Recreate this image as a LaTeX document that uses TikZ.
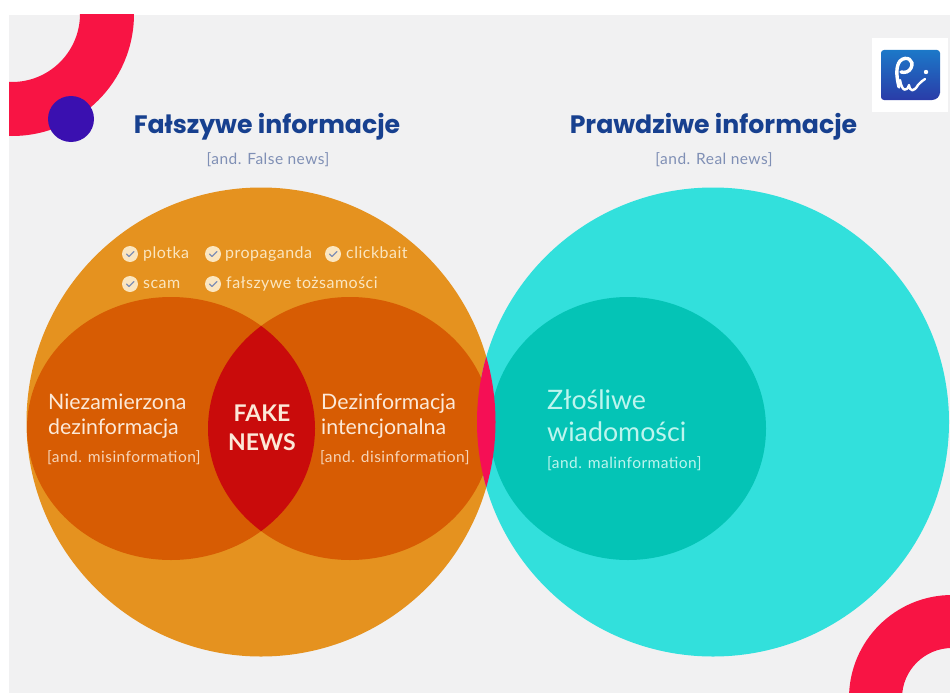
\documentclass[tikz,border=0pt]{standalone}
\usepackage{fontspec}
\setmainfont{Lato}
\newfontfamily\titlefont{Poppins}
\newfontfamily\spacedfont[LetterSpace=3]{Lato}
\definecolor{bgc}{HTML}{F1F1F2}
\definecolor{ringc}{HTML}{F81444}
\definecolor{purp}{HTML}{3A10B0}
\definecolor{orangeA}{HTML}{E5921F}
\definecolor{orangeB}{HTML}{D75C03}
\definecolor{redlens}{HTML}{C90B0B}
\definecolor{pinkl}{HTML}{F50F55}
\definecolor{cyanA}{HTML}{32E0DC}
\definecolor{cyanB}{HTML}{04C4B6}
\definecolor{navy}{HTML}{17408F}
\definecolor{subc}{HTML}{7F8FB5}
\definecolor{cream}{HTML}{FBE6C0}
\definecolor{softw}{HTML}{FCE9D8}
\definecolor{softc}{HTML}{BDF5EE}
\definecolor{logoA}{HTML}{1C78C8}
\definecolor{logoB}{HTML}{2A3CA8}
\tikzset{
  every node/.append style={inner sep=0pt},
  titlet/.style={anchor=base,text=navy,font=\titlefont\bfseries\fontsize{25.2}{28}\selectfont},
  subt/.style={anchor=base,text=subc,font=\spacedfont\fontsize{15.5}{18}\selectfont},
  listt/.style={anchor=base west,text=cream,font=\spacedfont\fontsize{16}{18}\selectfont},
  maint/.style={anchor=base west,text=softw,font=\fontsize{21.3}{25}\selectfont},
  smallt/.style={anchor=base west,text=softw!85!orangeB,font=\spacedfont\fontsize{15.5}{18}\selectfont},
  faket/.style={anchor=base,text=softw,font=\bfseries\fontsize{23}{27}\selectfont},
  cyanbig/.style={anchor=base west,text=softc,font=\fontsize{26.8}{32}\selectfont},
  cyansmall/.style={anchor=base west,text=softc,font=\spacedfont\fontsize{15.5}{18}\selectfont},
  checkdot/.style={circle,fill=cream,minimum size=16pt},
  checkmark/.style={draw=subc,line width=1.3pt,line cap=round,line join=round}
}
\newcommand{\chk}[3]{%
  \node[checkdot] (#1) at (#2,#3) {};
  \draw[checkmark] ([shift={(-3.5,0)}]#1.center) -- ([shift={(-1,2.5)}]#1.center) -- ([shift={(4,-2.5)}]#1.center);
}
\begin{document}
\begin{tikzpicture}[x=1pt,y=-1pt]
\useasboundingbox (0,0) rectangle (950,693);
\fill[white] (0,0) rectangle (950,693);
\fill[bgc] (9,15) rectangle (950,693);
% decorative rings
\begin{scope}
  \clip (9,15) rectangle (950,693);
  \fill[ringc,even odd rule] (12,14) circle[radius=122] (12,14) circle[radius=68];
  \fill[ringc,even odd rule] (952,698) circle[radius=103] (952,698) circle[radius=50];
\end{scope}
\fill[purp] (71,119) circle[radius=23];
% logo
\fill[white] (872,38) rectangle (948,112);
\shade[top color=logoA,bottom color=logoB,rounded corners=3pt]
  (881,50) -- (940,50) -- (940,90) [rounded corners=8pt] -- (940,100) [rounded corners=3pt] -- (881,100) -- cycle;
\draw[white,line width=3.4pt,line cap=round]
  (899,87) .. controls (896,75) and (896,66) .. (900,61)
  .. controls (906,55) and (915,60) .. (911,68) .. controls (909,72) and (905,73) .. (901,72);
\draw[white,line width=2.4pt,line cap=round,line join=round]
  (900,80) .. controls (902,92) and (907,92) .. (909,85)
  .. controls (910,92) and (914,92) .. (918,85) .. controls (921,82) and (923,80) .. (925,79);
\fill[white] (926,72) circle[radius=2.2];
% circles
\fill[orangeA] (261,422) circle[radius=234.5];
\fill[cyanA] (713,422) ellipse[x radius=236,y radius=234.5];
\begin{scope}
  \clip (26,188) rectangle (500,660);
  \fill[orangeB] (171,428.5) ellipse[x radius=144,y radius=131.5];
  \fill[orangeB] (350,428.5) ellipse[x radius=142,y radius=131.5];
\end{scope}
\begin{scope}
  \clip (171,428.5) ellipse[x radius=144,y radius=131.5];
  \fill[redlens] (350,428.5) ellipse[x radius=142,y radius=131.5];
\end{scope}
\fill[cyanB] (628,428.5) ellipse[x radius=138,y radius=131.5];
\begin{scope}
  \clip (713,422) ellipse[x radius=236,y radius=234.5];
  \fill[pinkl] (261,422) circle[radius=234.5];
\end{scope}
% titles
\node[titlet] (t1) at (267,133) {Fałszywe informacje};
\node[titlet] (t2) at (713.5,133) {Prawdziwe informacje};
\node[subt] (s1) at (268,164) {[and. False news]};
\node[subt] (s2) at (714,164) {[and. Real news]};
% list
\chk{c1}{130}{254}\chk{c2}{213}{254}\chk{c3}{333}{254}\chk{c4}{130}{284}\chk{c5}{213}{284}
\node[listt] (l1) at (143,258) {plotka};
\node[listt] (l2) at (225,258) {propaganda};
\node[listt] (l3) at (346,258) {clickbait};
\node[listt] (l4) at (143,288) {scam};
\node[listt] (l5) at (226,288) {fałszywe tożsamości};
% labels
\node[maint] (a1) at (48,409) {Niezamierzona};
\node[maint] (a2) at (48,434) {dezinformacja};
\node[smallt] (a3) at (47,462) {[and. misinformation]};
\node[faket] (f1) at (262,421) {FAKE};
\node[faket] (f2) at (262,450) {NEWS};
\node[maint] (b1) at (321,409) {Dezinformacja};
\node[maint] (b2) at (321,434) {intencjonalna};
\node[smallt] (b3) at (320,462) {[and. disinformation]};
\node[cyanbig] (z1) at (547,409) {Złośliwe};
\node[cyanbig] (z2) at (547,441) {wiadomości};
\node[cyansmall] (z3) at (547,468) {[and. malinformation]};
\end{tikzpicture}
\end{document}
